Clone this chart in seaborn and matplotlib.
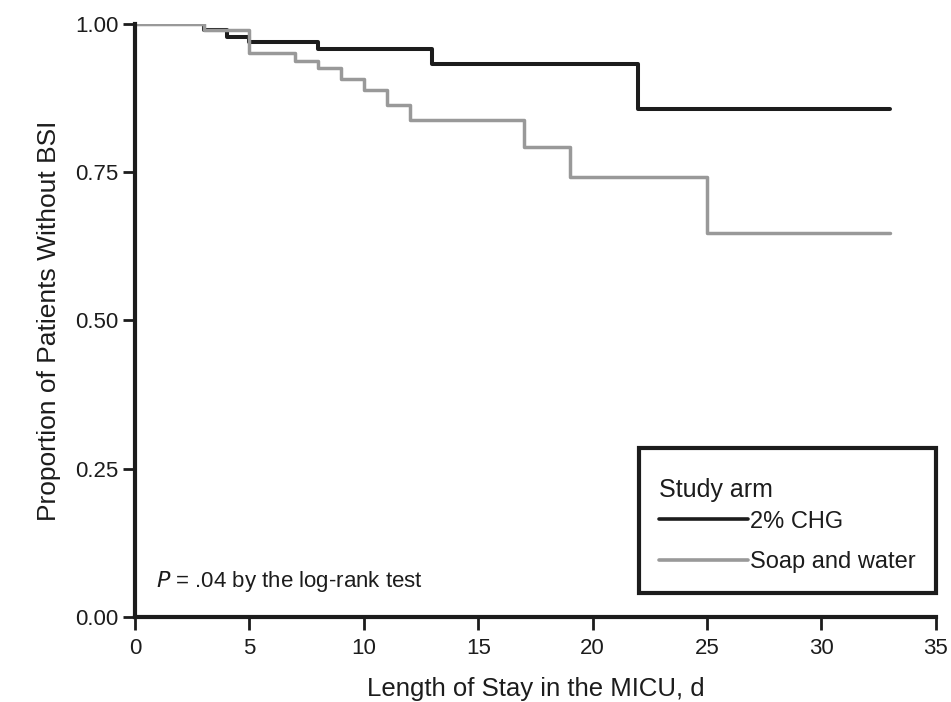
import pandas as pd
import matplotlib
matplotlib.use('Agg')
import matplotlib.pyplot as plt
import seaborn as sns

# Kaplan-Meier steps (day, proportion without BSI)
chg_days = [0, 3, 4, 5, 8, 13, 22, 33]
chg_surv = [1.0, 0.99, 0.978, 0.970, 0.958, 0.932, 0.856, 0.856]

soap_days = [0, 3, 5, 7, 8, 9, 10, 11, 12, 17, 19, 25, 33]
soap_surv = [1.0, 0.99, 0.951, 0.938, 0.925, 0.907, 0.888, 0.863, 0.838, 0.793, 0.742, 0.648, 0.648]

arm_labels = ['2% CHG', 'Soap and water']
x_ticks = [0, 5, 10, 15, 20, 25, 30, 35]
y_ticks = [0.00, 0.25, 0.50, 0.75, 1.00]

df = pd.concat([
    pd.DataFrame({'Day': chg_days, 'Surv': chg_surv, 'Arm': arm_labels[0]}),
    pd.DataFrame({'Day': soap_days, 'Surv': soap_surv, 'Arm': arm_labels[1]}),
])

sns.set_style('white')
plt.rcParams['font.family'] = ['Liberation Sans', 'DejaVu Sans']
ink = '#1c1c1c'

fig = plt.figure(figsize=(9.51, 7.02), dpi=100)
ax = fig.add_axes([0.142, 0.121, 0.842, 0.845])

palette = {arm_labels[0]: ink, arm_labels[1]: '#999999'}
# gray curve sits on top of the black one in the reference
sns.lineplot(data=df[df['Arm'] == arm_labels[0]], x='Day', y='Surv', color=palette[arm_labels[0]],
             drawstyle='steps-post', linewidth=2.9, ax=ax, label=arm_labels[0], zorder=2)
sns.lineplot(data=df[df['Arm'] == arm_labels[1]], x='Day', y='Surv', color=palette[arm_labels[1]],
             drawstyle='steps-post', linewidth=2.5, ax=ax, label=arm_labels[1], zorder=3)

ax.set_xlim(0, 35)
ax.set_ylim(0, 1.0)
ax.set_xticks(x_ticks)
ax.set_yticks(y_ticks)
ax.set_yticklabels([f'{v:.2f}' for v in y_ticks])
ax.tick_params(axis='both', direction='out', length=9, width=2, labelsize=16,
               color=ink, labelcolor=ink, bottom=True, left=True)
ax.tick_params(axis='x', pad=6)
ax.tick_params(axis='y', pad=3)

for side in ['top', 'right']:
    ax.spines[side].set_visible(False)
for side in ['left', 'bottom']:
    ax.spines[side].set_linewidth(3)
    ax.spines[side].set_color(ink)
    ax.spines[side].set_zorder(4)

ax.set_xlabel('Length of Stay in the MICU, d', fontsize=18.5, labelpad=13, color=ink)
ax.set_ylabel('Proportion of Patients Without BSI', fontsize=19, labelpad=10, color=ink)
ax.margins(0)

ax.text(0.9, 0.06, r'$P$ = .04 by the log-rank test', fontsize=16, ha='left', va='center', color=ink)

leg = ax.legend(title='Study arm', loc='lower right', bbox_to_anchor=(1.0, 0.04),
                fontsize=17, title_fontsize=18, frameon=True, fancybox=False, framealpha=1,
                handlelength=3.75, handletextpad=0.1, borderpad=0.85, labelspacing=0.79,
                alignment='left', borderaxespad=0.0)
leg.get_frame().set_edgecolor(ink)
leg.get_frame().set_linewidth(3)
for line in leg.get_lines():
    line.set_linewidth(2.6)
for t in leg.get_texts():
    t.set_color(ink)
title = leg.get_title()
title.set_color(ink)
# nudge the title down a little, as in the reference box
title.set_position((0, -10))

fig.savefig('out.png', dpi=100)
